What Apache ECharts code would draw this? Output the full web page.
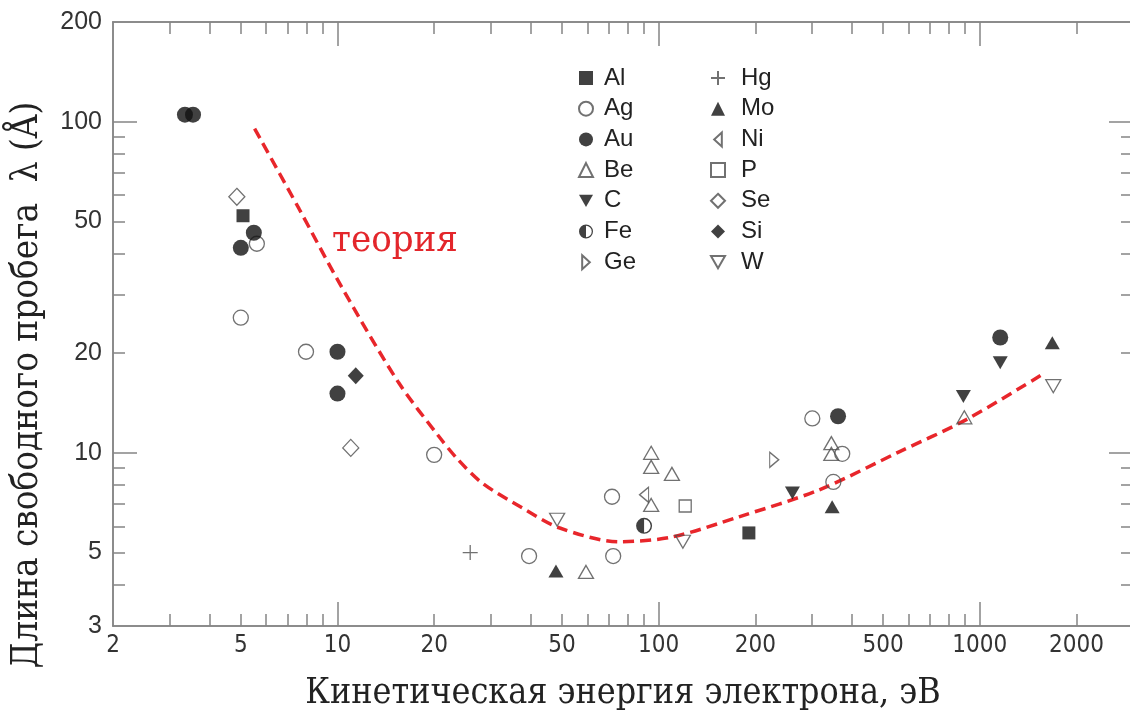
<!DOCTYPE html>
<html>
<head>
<meta charset="utf-8">
<script src="https://cdn.jsdelivr.net/npm/echarts@6/dist/echarts.min.js"></script>
<style>
  html, body { margin: 0; padding: 0; background: #fff; }
  #chart { width: 1130px; height: 721px; }
</style>
</head>
<body>
<div id="chart"></div>
<script>
// Inelastic mean free path of electrons in solids: [kinetic energy (eV), λ (Å)]
const elements = ['Al', 'Ag', 'Au', 'Be', 'C', 'Fe', 'Ge', 'Hg', 'Mo', 'Ni', 'P', 'Se', 'Si', 'W'];
const Al = [[5.08, 52.0], [191, 5.73]];
const Ag = [[5.61, 42.8], [5.0, 25.6], [7.98, 20.2], [20.0, 9.86], [39.5, 4.88], [72.2, 4.88],
            [71.6, 7.37], [301, 12.7], [373, 9.93], [350, 8.17]];
const Au = [[3.35, 105], [3.55, 105], [5.0, 41.6], [5.49, 46.2], [10, 20.2], [10, 15.1],
            [362, 12.9], [1158, 22.3]];
const Be = [[59.4, 4.37], [94.8, 6.96], [94.8, 10.0], [94.8, 9.07], [110, 8.64], [345, 10.7],
            [345, 9.93], [895, 12.8]];
const C  = [[261, 7.57], [1158, 18.7], [889, 14.8]];
const Fe = [[90.1, 6.02]];
const Ge = [[229, 9.53]];
const Hg = [[25.9, 5.0]];
const Mo = [[47.9, 4.40], [347, 6.87], [1682, 21.5]];
const Ni = [[90.1, 7.47]];
const P  = [[121, 6.91]];
const Se = [[4.86, 59.3], [11.0, 10.35]];
const Si = [[11.4, 17.1]];
const W  = [[48.3, 6.28], [119, 5.39], [1694, 15.9]];

// Universal curve (theory)
const theory = [[5.52, 95.3], [7.59, 54.6], [10.3, 31.7], [15.5, 16.3], [20.7, 11.2], [23.6, 9.6],
                [28.2, 8.11], [37.6, 6.82], [49.0, 5.94], [75.3, 5.39], [110, 5.57], [178, 6.41],
                [316, 7.73], [561, 10.07], [908, 12.6], [1588, 17.4]];

// Axis ticks and labels
const xLabels = [2, 5, 10, 20, 50, 100, 200, 500, 1000, 2000];
const yLabels = [3, 5, 10, 20, 50, 100, 200];
const xMajorTicks = [10, 100, 1000];
const xMinorTicks = [3, 4, 5, 6, 7, 8, 9, 20, 30, 40, 50, 60, 70, 80, 90,
                     200, 300, 400, 500, 600, 700, 800, 900, 2000];
const yMajorTicks = [10, 100];
const yMinorTicks = [4, 5, 6, 7, 8, 9, 20, 30, 40, 50, 60, 70, 80, 90];

const dataByName = { Al, Ag, Au, Be, C, Fe, Ge, Hg, Mo, Ni, P, Se, Si, W };

const OPEN = '#4d4d4d';
const FILL = '#111111';
const AXIS = '#858585';
const halfDisc = 'path://M50 0A50 50 0 0 0 50 100ZM50 0A50 50 0 0 1 50 100L50 91A41 41 0 0 0 50 9Z';
const downTri = 'path://M0 0L100 0L50 87Z';

const markerStyles = {
  Al: { symbol: 'rect', size: 13, fill: true },
  Ag: { symbol: 'circle', size: 15, fill: false },
  Au: { symbol: 'circle', size: 16, fill: true },
  Be: { symbol: 'triangle', size: [15, 13], fill: false },
  C:  { symbol: downTri, size: [15, 13], fill: true },
  Fe: { symbol: halfDisc, size: 16, fill: true },
  Ge: { symbol: 'path://M0 0L60 55L0 110Z', size: [9, 15], fill: false },
  Hg: { symbol: 'path://M0 50H100M50 0V100', size: 15, fill: false },
  Mo: { symbol: 'triangle', size: [15, 13], fill: true },
  Ni: { symbol: 'path://M60 0L0 55L60 110Z', size: [9, 15], fill: false },
  P:  { symbol: 'rect', size: 12, fill: false },
  Se: { symbol: 'diamond', size: [16, 17], fill: false },
  Si: { symbol: 'diamond', size: [16, 17], fill: true },
  W:  { symbol: downTri, size: [15, 13], fill: false }
};

const scatterSeries = elements.map(function (name) {
  const st = markerStyles[name];
  return {
    name: name,
    type: 'scatter',
    xAxisIndex: 0,
    yAxisIndex: 0,
    data: dataByName[name],
    symbol: st.symbol,
    symbolSize: st.size,
    itemStyle: st.fill
      ? { color: FILL, borderWidth: 0 }
      : { color: 'rgba(0,0,0,0)', borderColor: OPEN, borderWidth: 1.3 },
    emphasis: { disabled: true },
    z: 4
  };
});

const theorySeries = {
  name: 'теория',
  type: 'line',
  xAxisIndex: 0,
  yAxisIndex: 0,
  data: theory,
  smooth: 0.3,
  showSymbol: false,
  lineStyle: { color: '#e8262b', width: 3.5, type: [11, 6] },
  emphasis: { disabled: true },
  z: 3
};

function logAxis(gridIndex, position, ticks, tickLen, labelCfg, min, max, name) {
  const ax = {
    type: 'log',
    logBase: 10,
    gridIndex: gridIndex,
    position: position,
    min: min,
    max: max,
    axisLine: { show: true, onZero: false, lineStyle: { color: AXIS, width: 1.5 } },
    axisTick: { show: true, inside: true, length: tickLen, customValues: ticks,
                lineStyle: { color: AXIS, width: 1.5 } },
    axisLabel: labelCfg || { show: false },
    splitLine: { show: false },
    minorTick: { show: false },
    minorSplitLine: { show: false }
  };
  if (name) Object.assign(ax, name);
  return ax;
}

const xMin = 2, xMax = 3000, yMin = 3, yMax = 200;

const xLabelCfg = {
  show: true,
  customValues: xLabels,
  margin: 8,
  formatter: function (v) { return String(Math.round(v)); },
  fontFamily: '"DejaVu Sans Condensed", "Liberation Sans", sans-serif',
  fontSize: 24,
  color: '#333'
};
const yLabelCfg = {
  show: true,
  customValues: yLabels,
  margin: 11,
  formatter: function (v) { return String(Math.round(v)); },
  fontFamily: '"Liberation Sans", Arial, sans-serif',
  fontSize: 25,
  color: '#333'
};

const titleFont = '"DejaVu Serif Condensed", "DejaVu Serif", serif';
const xName = {
  name: 'Кинетическая энергия электрона, эВ',
  nameLocation: 'middle',
  nameGap: 50,
  nameMoveOverlap: false,
  nameTextStyle: { fontFamily: titleFont, fontSize: 35.5, color: '#222' }
};
const yName = {
  name: 'Длина свободного пробега  λ (Å)',
  nameLocation: 'middle',
  nameGap: 67,
  nameMoveOverlap: false,
  nameTextStyle: { fontFamily: titleFont, fontSize: 36.5, color: '#222', padding: [0, 122, 0, 0] }
};

const gridBox = { left: 113, right: -3, top: 22, bottom: 95, containLabel: false, outerBoundsMode: 'none' };

const legendText = {
  fontFamily: '"Liberation Sans", Arial, sans-serif',
  fontSize: 24,
  color: '#222'
};

const option = {
  animation: false,
  backgroundColor: '#ffffff',
  grid: [Object.assign({}, gridBox), Object.assign({}, gridBox)],
  xAxis: [
    logAxis(0, 'bottom', xMajorTicks, 24, xLabelCfg, xMin, xMax, xName),
    logAxis(0, 'top', xMajorTicks, 24, null, xMin, xMax),
    logAxis(1, 'bottom', xMinorTicks, 12, null, xMin, xMax),
    logAxis(1, 'top', xMinorTicks, 12, null, xMin, xMax)
  ],
  yAxis: [
    logAxis(0, 'left', yMajorTicks, 24, yLabelCfg, yMin, yMax, yName),
    logAxis(0, 'right', yMajorTicks, 24, null, yMin, yMax),
    logAxis(1, 'left', yMinorTicks, 12, null, yMin, yMax),
    logAxis(1, 'right', yMinorTicks, 12, null, yMin, yMax)
  ],
  legend: [
    {
      data: elements.slice(0, 7),
      orient: 'vertical',
      left: 578, top: 66, padding: 0,
      itemWidth: 14, itemHeight: 14, itemGap: 6.7,
      symbolKeepAspect: true,
      selectedMode: false,
      textStyle: Object.assign({ padding: [0, 0, 0, 6] }, legendText)
    },
    {
      data: elements.slice(7),
      orient: 'vertical',
      left: 710, top: 66, padding: 0,
      itemWidth: 14, itemHeight: 14, itemGap: 6.7,
      symbolKeepAspect: true,
      selectedMode: false,
      textStyle: Object.assign({ padding: [0, 0, 0, 11] }, legendText)
    }
  ],
  graphic: [
    {
      type: 'text',
      left: 332,
      top: 222,
      style: {
        text: 'теория',
        fill: '#e3262b',
        font: '38px "DejaVu Serif Condensed", "DejaVu Serif", serif'
      },
      z: 10
    }
  ],
  series: scatterSeries.concat([theorySeries])
};

const chart = echarts.init(document.getElementById('chart'), null, { renderer: 'canvas' });
chart.setOption(option);
</script>
</body>
</html>
